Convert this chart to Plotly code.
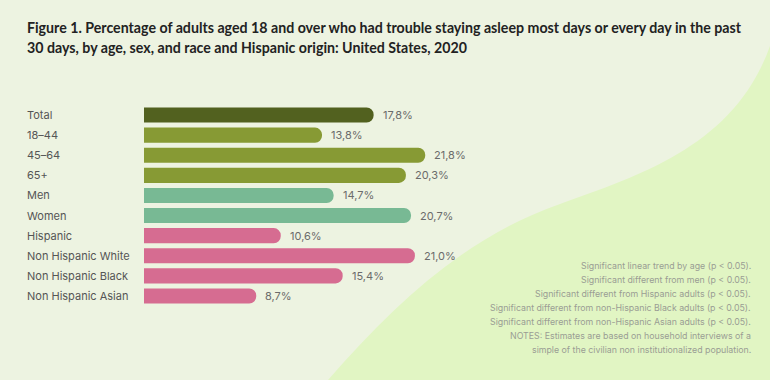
import plotly.graph_objects as go

categories = ["Total", "18–44", "45–64", "65+", "Men", "Women", "Hispanic",
              "Non Hispanic White", "Non Hispanic Black", "Non Hispanic Asian"]
values = [17.8, 13.8, 21.8, 20.3, 14.7, 20.7, 10.6, 21.0, 15.4, 8.7]
groups = ["total", "age", "age", "age", "sex", "sex", "race", "race", "race", "race"]
group_colors = {"total": "#52611f", "age": "#879a34", "sex": "#78b994", "race": "#d66c91"}
value_labels = [f"{v:.1f}".replace(".", ",") + "%" for v in values]

notes = [
    "Significant linear trend by age (p < 0.05).",
    "Significant different from men (p < 0.05).",
    "Significant different from Hispanic adults (p < 0.05).",
    "Significant different from non-Hispanic Black adults (p < 0.05).",
    "Significant different from non-Hispanic Asian adults (p < 0.05).",
    "NOTES: Estimates are based on household interviews of a",
    "simple of the civilian non institutionalized population.",
]
title_lines = [
    "Figure 1. Percentage of adults aged 18 and over who had trouble staying asleep most days or every day in the past",
    "30 days, by age, sex, and race and Hispanic origin: United States, 2020",
]

W, H = 770, 380
FONT = "Inter"
TFONT = "Lato"

def px(x, y):
    return f"{x / W:.4f},{1 - y / H:.4f}"

blob = ("M " + px(328, 380) + " C " + px(398, 300) + " " + px(468, 236) + " " + px(560, 204)
        + " C " + px(650, 172) + " " + px(745, 140) + " " + px(775, 30)
        + " L " + px(775, 385) + " Z")

fig = go.Figure()
fig.add_trace(go.Bar(
    x=values, y=categories, orientation="h",
    marker=dict(color=[group_colors[g] for g in groups], cornerradius=8, line=dict(width=0)),
    hoverinfo="skip",
))

annotations = []
for c in categories:
    annotations.append(dict(x=25 / W, xref="paper", y=c, yref="y", text=c, showarrow=False,
                            xanchor="left", yanchor="middle",
                            font=dict(family=FONT, size=11, color="#555555")))
for c, v, t in zip(categories, values, value_labels):
    annotations.append(dict(x=v, xref="x", y=c, yref="y", text=t, showarrow=False,
                            xanchor="left", yanchor="middle", xshift=7,
                            font=dict(family=FONT, size=11, color="#6b6b6b")))
for i, line in enumerate(title_lines):
    annotations.append(dict(x=25 / W, xref="paper", y=1 - (27 + 20 * i) / H, yref="paper",
                            text=line, showarrow=False, xanchor="left", yanchor="middle",
                            font=dict(family=TFONT, size=14.2, color="#222222", weight=700)))
for i, line in enumerate(notes):
    annotations.append(dict(x=753 / W, xref="paper", y=1 - (265 + 14 * i) / H, yref="paper",
                            text=line, showarrow=False, xanchor="right", yanchor="middle",
                            font=dict(family=FONT, size=8.8, color="#9a9d94")))

fig.update_layout(
    width=W, height=H,
    margin=dict(l=0, r=0, t=0, b=0),
    paper_bgcolor="#edf3e1", plot_bgcolor="rgba(0,0,0,0)",
    showlegend=False, bargap=0.25,
    xaxis=dict(domain=[144 / W, 1], range=[0, 626 / 12.9], visible=False, fixedrange=True),
    yaxis=dict(domain=[(H - 306) / H, (H - 105) / H], range=[9.5, -0.5], visible=False,
               type="category", categoryorder="array", categoryarray=categories, fixedrange=True),
    shapes=[dict(type="path", path=blob, xref="paper", yref="paper",
                 fillcolor="#e1f5c3", line=dict(width=0), layer="below")],
    annotations=annotations,
    font=dict(family=FONT),
)

fig.write_html("out.html", config={"displayModeBar": False},
               post_script="document.body.style.margin='0';document.body.style.background='#edf3e1';")
